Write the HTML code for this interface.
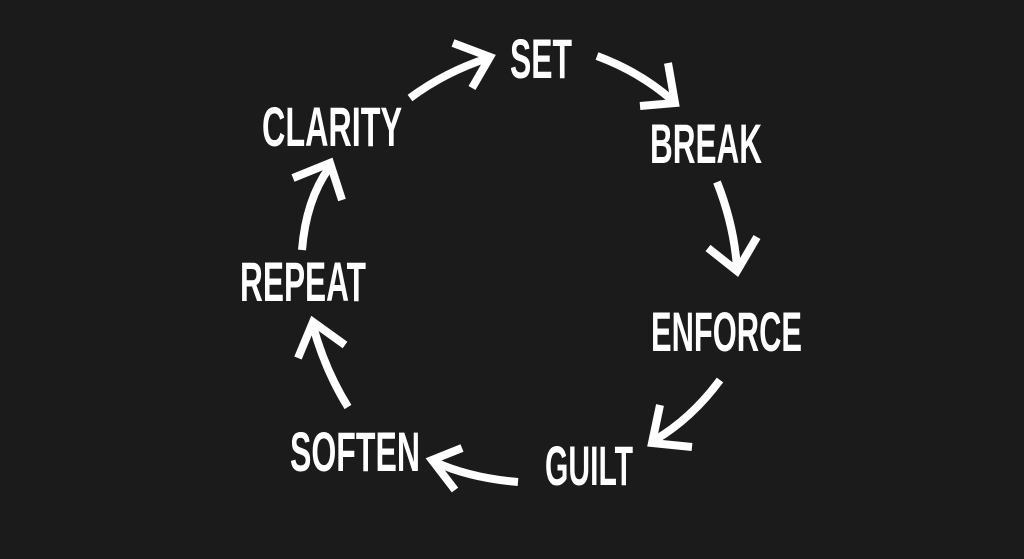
<!DOCTYPE html>
<html><head><style>
html,body{margin:0;padding:0;background:#1b1b1b;}
svg{display:block}
text{font-family:"Liberation Sans",sans-serif;font-weight:bold;font-size:56px;fill:#fff}
</style></head><body>
<svg width="1024" height="559" viewBox="0 0 1024 559">
<rect width="1024" height="559" fill="#1b1b1b"/>
<text x="510" y="78" textLength="62" lengthAdjust="spacingAndGlyphs">SET</text>
<text x="262" y="146" textLength="140" lengthAdjust="spacingAndGlyphs">CLARITY</text>
<text x="650" y="163" textLength="112" lengthAdjust="spacingAndGlyphs">BREAK</text>
<text x="240" y="301" textLength="126" lengthAdjust="spacingAndGlyphs">REPEAT</text>
<text x="651" y="351" textLength="151" lengthAdjust="spacingAndGlyphs">ENFORCE</text>
<text x="290" y="471" textLength="130" lengthAdjust="spacingAndGlyphs">SOFTEN</text>
<text x="545" y="485" textLength="88" lengthAdjust="spacingAndGlyphs">GUILT</text>
<g fill="none" stroke="#fff" stroke-width="8" stroke-linejoin="miter">
<path d="M410 98 Q445 72 488 58"/><path d="M453 43 L490 57 L472 88"/>
<path d="M597 56 Q640 72 672 100"/><path d="M668 63 L675 103 L640 106"/>
<path d="M717 182 Q734 225 737 268"/><path d="M708 248 L737 271 L757 237"/>
<path d="M720 380 Q692 418 655 440"/><path d="M660 405 L652 443 L692 447"/>
<path d="M518 482 Q470 478 435 462"/><path d="M462 448 L432 460 L455 490"/>
<path d="M348 407 Q325 370 313 326"/><path d="M298 358 L313 322 L345 345"/>
<path d="M302 250 Q306 200 329 168"/><path d="M293 178 L330 163 L342 200"/>
</g>
</svg>
</body></html>
